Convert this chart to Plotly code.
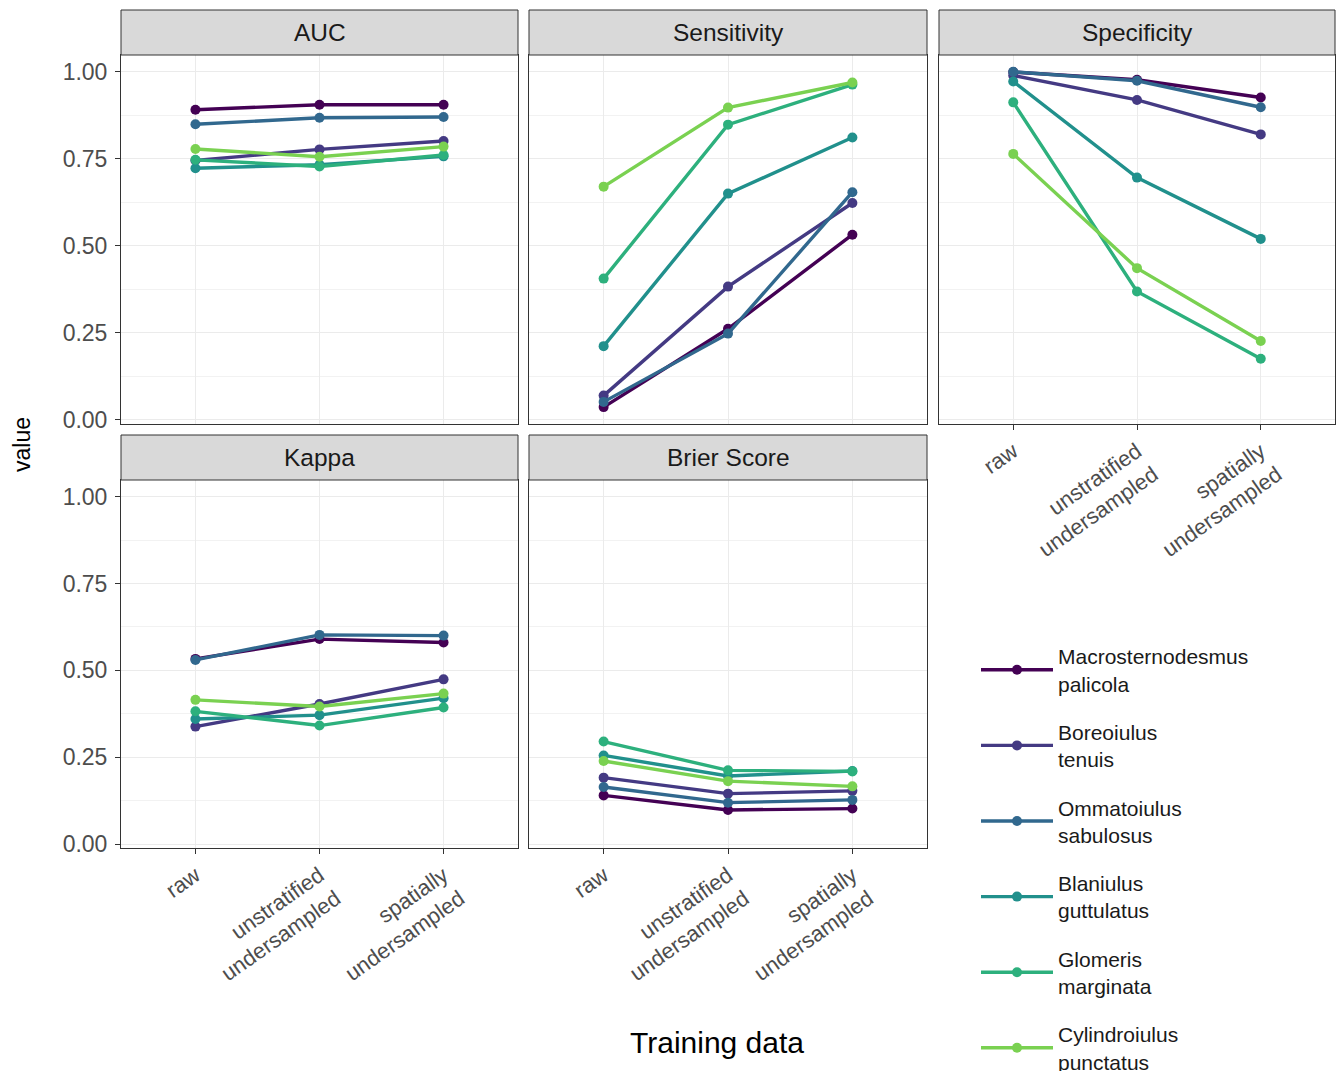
import plotly.graph_objects as go

W, H = 1339, 1071

training = ["raw", "unstratified undersampled", "spatially undersampled"]
tick_labels = ["raw", "unstratified<br>undersampled", "spatially<br>undersampled"]

species = ["Macrosternodesmus palicola", "Boreoiulus tenuis", "Ommatoiulus sabulosus",
           "Blaniulus guttulatus", "Glomeris marginata", "Cylindroiulus punctatus"]
species_labels = ["Macrosternodesmus<br>palicola", "Boreoiulus<br>tenuis", "Ommatoiulus<br>sabulosus",
                  "Blaniulus<br>guttulatus", "Glomeris<br>marginata", "Cylindroiulus<br>punctatus"]
colors = ["#440154", "#443A83", "#31688E", "#21908C", "#2DB07D", "#7AD151"]

metrics = ["AUC", "Sensitivity", "Specificity", "Kappa", "Brier Score"]

auc = [[0.891, 0.905, 0.905], [0.745, 0.777, 0.801], [0.849, 0.868, 0.870],
       [0.723, 0.733, 0.757], [0.747, 0.728, 0.761], [0.778, 0.756, 0.785]]
sensitivity = [[0.037, 0.262, 0.532], [0.070, 0.383, 0.623], [0.052, 0.248, 0.654],
               [0.212, 0.650, 0.811], [0.406, 0.848, 0.963], [0.670, 0.897, 0.969]]
specificity = [[0.999, 0.977, 0.926], [0.989, 0.919, 0.820], [1.000, 0.974, 0.898],
               [0.972, 0.696, 0.520], [0.912, 0.369, 0.176], [0.764, 0.436, 0.227]]
kappa = [[0.533, 0.590, 0.580], [0.338, 0.403, 0.474], [0.530, 0.602, 0.600],
         [0.360, 0.371, 0.420], [0.382, 0.341, 0.393], [0.415, 0.396, 0.433]]
brier = [[0.140, 0.098, 0.102], [0.191, 0.145, 0.153], [0.164, 0.119, 0.127],
         [0.255, 0.196, 0.210], [0.295, 0.212, 0.209], [0.239, 0.181, 0.166]]

y_ticks = [0, 0.25, 0.5, 0.75, 1.0]
y_ticktext = ["0.00", "0.25", "0.50", "0.75", "1.00"]

data_by_metric = [auc, sensitivity, specificity, kappa, brier]

# panel pixel boxes: (x0, x1, strip_top, plot_top, plot_bottom)
panels = [
    (121, 518, 10, 55, 424),
    (529, 927, 10, 55, 424),
    (939, 1335, 10, 55, 424),
    (121, 518, 435, 480, 848),
    (529, 927, 435, 480, 848),
]
show_x_labels = [False, False, True, True, True]
show_y_labels = [True, False, False, True, False]

FONT = "Liberation Sans, Arial, Helvetica, sans-serif"

fig = go.Figure()

for p, vals in enumerate(data_by_metric):
    ax = "" if p == 0 else str(p + 1)
    for s, name in enumerate(species):
        fig.add_trace(go.Scatter(
            x=training, y=vals[s], mode="lines+markers",
            name=species_labels[s], legendgroup=name, showlegend=(p == 0),
            line=dict(color=colors[s], width=3.4),
            marker=dict(color=colors[s], size=10),
            xaxis="x" + ax, yaxis="y" + ax,
        ))

layout = dict(
    width=W, height=H,
    margin=dict(l=0, r=0, t=0, b=0, autoexpand=False),
    paper_bgcolor="white", plot_bgcolor="white",
    font=dict(family=FONT, color="#1A1A1A"),
    shapes=[], annotations=[],
    legend=dict(
        x=976 / W, y=1 - 636 / H, xanchor="left", yanchor="top",
        xref="container", yref="container",
        font=dict(size=21, family=FONT, color="#1A1A1A"),
        tracegroupgap=18, traceorder="grouped",
        itemwidth=72, bgcolor="rgba(0,0,0,0)",
    ),
)

for p, (x0, x1, st, pt, pb) in enumerate(panels):
    ax = "" if p == 0 else str(p + 1)
    xa = dict(
        domain=[x0 / W, x1 / W], anchor="y" + ax,
        type="category", categoryorder="array", categoryarray=training,
        range=[-0.6, 2.6],
        tickvals=training, ticktext=tick_labels,
        showticklabels=show_x_labels[p],
        ticks="outside" if show_x_labels[p] else "", ticklen=5, tickcolor="#333333", tickwidth=1,
        tickangle=-35, tickfont=dict(size=22, color="#4D4D4D", family=FONT),
        showgrid=True, gridcolor="#EBEBEB", gridwidth=1.2,
        showline=True, linecolor="#333333", linewidth=1, mirror=True,
        zeroline=False, fixedrange=True, automargin=False,
    )
    ya = dict(
        domain=[1 - pb / H, 1 - pt / H], anchor="x" + ax,
        range=[-0.0115, 1.048],
        tickvals=y_ticks, ticktext=y_ticktext,
        showticklabels=show_y_labels[p],
        ticks="outside" if show_y_labels[p] else "", ticklen=5, tickcolor="#333333", tickwidth=1,
        tickfont=dict(size=23, color="#4D4D4D", family=FONT),
        ticklabelstandoff=3,
        showgrid=True, gridcolor="#EBEBEB", gridwidth=1.2,
        minor=dict(tickvals=[0.125, 0.375, 0.625, 0.875], showgrid=True,
                   gridcolor="#F2F2F2", gridwidth=0.8, ticks=""),
        showline=True, linecolor="#333333", linewidth=1, mirror=True,
        zeroline=False, fixedrange=True, automargin=False,
    )
    layout["xaxis" + ax] = xa
    layout["yaxis" + ax] = ya
    layout["shapes"].append(dict(
        type="rect", xref="paper", yref="paper",
        x0=x0 / W, x1=x1 / W, y0=1 - pt / H, y1=1 - st / H,
        fillcolor="#D9D9D9", line=dict(color="#333333", width=1), layer="above",
    ))
    layout["annotations"].append(dict(
        text=metrics[p], xref="paper", yref="paper",
        x=(x0 + x1) / 2 / W, y=1 - (st + pt) / 2 / H,
        xanchor="center", yanchor="middle", showarrow=False,
        font=dict(size=24.5, color="#1A1A1A", family=FONT),
    ))

layout["annotations"].append(dict(
    text="value", xref="paper", yref="paper", x=22 / W, y=1 - 445 / H,
    xanchor="center", yanchor="middle", textangle=-90, showarrow=False,
    font=dict(size=23, color="black", family=FONT),
))
layout["annotations"].append(dict(
    text="Training data", xref="paper", yref="paper", x=717 / W, y=1 - 1042 / H,
    xanchor="center", yanchor="middle", showarrow=False,
    font=dict(size=30, color="black", family=FONT),
))

fig.update_layout(**layout)
fig.write_html("out.html", config={"displayModeBar": False},
               post_script="document.body.style.margin='0px';document.body.style.overflow='hidden';")
